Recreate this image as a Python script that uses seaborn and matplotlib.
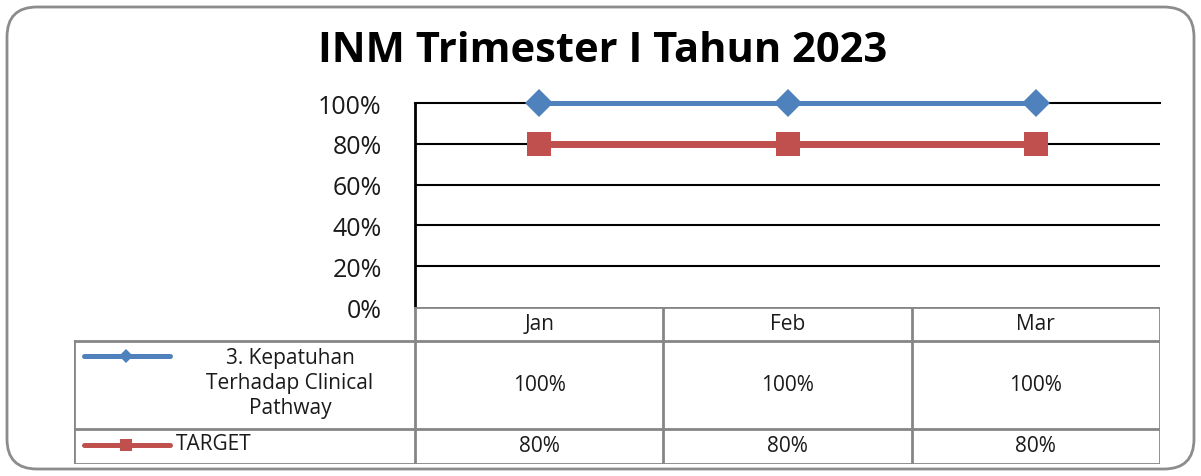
import numpy as np
import pandas as pd
import matplotlib
matplotlib.use("Agg")
import matplotlib.pyplot as plt
from matplotlib.patches import FancyBboxPatch
import seaborn as sns

# -----------------------------
# Data
# -----------------------------
months = ["Jan", "Feb", "Mar"]
kepatuhan = [1.0, 1.0, 1.0]
target = [0.8, 0.8, 0.8]
series_names = ["3. Kepatuhan\nTerhadap Clinical\nPathway", "TARGET"]
y_ticks = [0, 0.2, 0.4, 0.6, 0.8, 1.0]

blue = "#4F81BD"
red = "#C0504D"
grid_gray = "#868686"
txt = "#1a1a1a"

sns.set_style("white")
plt.rcParams['font.family'] = ['Open Sans', 'DejaVu Sans']
plt.rcParams['text.color'] = txt
plt.rcParams['ytick.color'] = txt

W, H = 1201, 477
fig = plt.figure(figsize=(W / 100, H / 100), dpi=100)

# -----------------------------
# Chart area
# -----------------------------
ax = fig.add_axes([415 / W, 1 - 308 / H, 745 / W, 204 / H])

df1 = pd.DataFrame({"Bulan": months, "Nilai": kepatuhan})
df2 = pd.DataFrame({"Bulan": months, "Nilai": target})

sns.lineplot(data=df1, x="Bulan", y="Nilai", ax=ax, color=blue, lw=3.6,
             marker="D", markersize=14, markeredgewidth=0, zorder=4, clip_on=False)
sns.lineplot(data=df2, x="Bulan", y="Nilai", ax=ax, color=red, lw=5,
             marker="s", markersize=17, markeredgewidth=0, zorder=4, clip_on=False)

ax.set_xlim(-0.5, 2.5)
ax.set_ylim(0, 1.0)
ax.set_yticks(y_ticks)
ax.set_yticklabels([f"{int(v * 100)}%" for v in y_ticks], fontsize=18)
ax.tick_params(axis="y", length=0, pad=24, labelcolor=txt)
ax.set_xticks([])
ax.set_xlabel("")
ax.set_ylabel("")
for v in y_ticks[1:-1]:
    ax.axhline(v, color="black", lw=1.5, zorder=1)
ax.spines["right"].set_visible(False)
ax.spines["bottom"].set_visible(False)
ax.spines["left"].set_color("black")
ax.spines["left"].set_linewidth(2)
ax.spines["top"].set_color("black")
ax.spines["top"].set_linewidth(1.5)

fig.text(603 / W, 1 - 51 / H, "INM Trimester I Tahun 2023", ha="center", va="center",
         fontsize=30, fontweight="bold", color="black")

# -----------------------------
# Data table
# -----------------------------
tab = fig.add_axes([74 / W, 1 - 465 / H, 1086 / W, 157 / H])
unit = 745 / 3
left = -0.5 - 341 / unit


def px(xp):
    return (xp - 415) / unit - 0.5


tab.set_xlim(left, 2.5)
tab.set_ylim(465, 308)
tab.axis("off")

lk = dict(color=grid_gray, lw=2, solid_capstyle="projecting")
tab.plot([-0.5, 2.5], [308, 308], **lk)
tab.plot([left, 2.5], [342, 342], **lk)
tab.plot([left, 2.5], [430, 430], **lk)
tab.plot([left, 2.5], [465, 465], **lk)
tab.plot([left, left], [342, 465], **lk)
for xv in [-0.5, 0.5, 1.5, 2.5]:
    tab.plot([xv, xv], [308, 465], **lk)

fs = 15
for i, m in enumerate(months):
    tab.text(i, 325, m, ha="center", va="center", fontsize=fs)
    tab.text(i, 386, f"{int(kepatuhan[i] * 100)}%", ha="center", va="center", fontsize=fs)
    tab.text(i, 447, f"{int(target[i] * 100)}%", ha="center", va="center", fontsize=fs)

# legend keys inside the table
tab.plot([px(84), px(170)], [357, 357], color=blue, lw=3.6, solid_capstyle="round")
tab.plot([px(126)], [357], marker="D", color=blue, markersize=7, markeredgewidth=0)
tab.plot([px(84), px(170)], [446, 446], color=red, lw=3.6, solid_capstyle="round")
tab.plot([px(126)], [446], marker="s", color=red, markersize=9, markeredgewidth=0)

tab.text(px(290), 384, series_names[0], ha="center", va="center", fontsize=fs,
         linespacing=1.25)
tab.text(px(176), 445, series_names[1], ha="left", va="center", fontsize=fs)

# -----------------------------
# Rounded chart border
# -----------------------------
border = FancyBboxPatch((0.07, 0.07), 11.87, 4.62, boxstyle="round,pad=0,rounding_size=0.3",
                        transform=fig.dpi_scale_trans, fill=False, edgecolor="#8c8c8c", lw=2)
fig.patches.append(border)

fig.savefig("out.png", dpi=100)
